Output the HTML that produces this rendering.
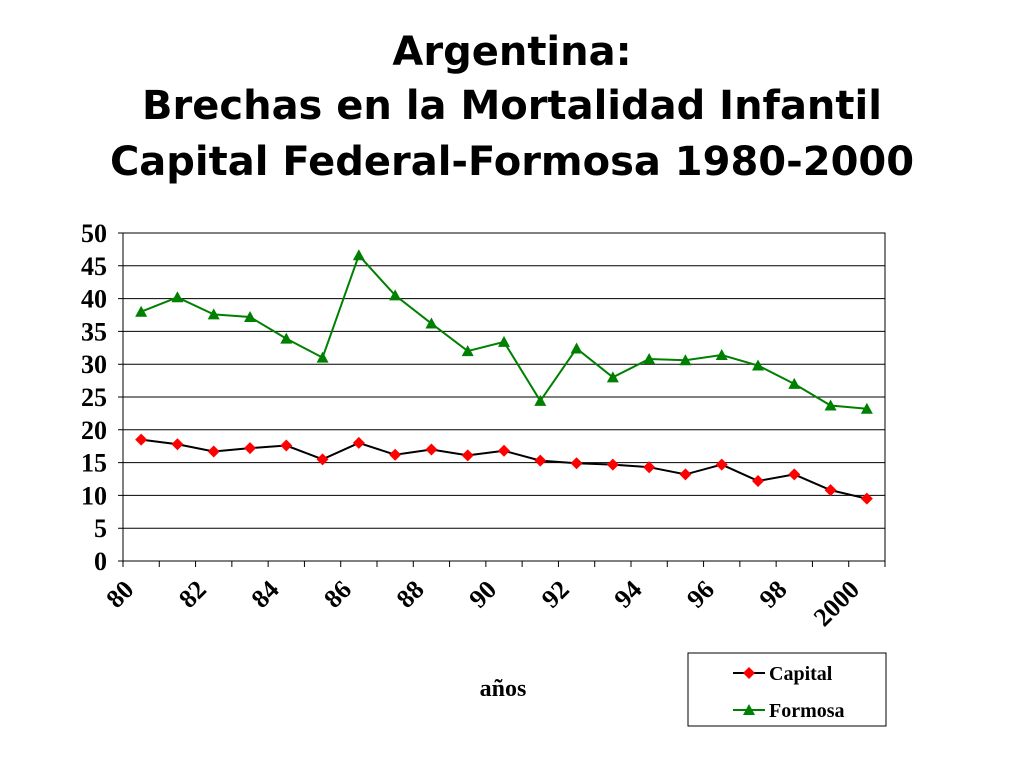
<!DOCTYPE html>
<html><head><meta charset="utf-8"><style>
body{margin:0;background:#fff;width:1024px;height:768px;overflow:hidden}
.t{position:absolute;left:0;width:1024px;text-align:center;font-family:"DejaVu Sans","Liberation Sans",sans-serif;font-weight:bold;font-size:40px;color:#000}
</style></head><body>
<div class="t" style="top:29px">Argentina:</div>
<div class="t" style="top:83px">Brechas en la Mortalidad Infantil</div>
<div class="t" style="top:139px">Capital Federal-Formosa 1980-2000</div>
<svg id="c" width="1024" height="768" style="position:absolute;left:0;top:0"></svg>
<script>
const years=["80","","82","","84","","86","","88","","90","","92","","94","","96","","98","","2000"];
const capital=[18.5,17.8,16.7,17.2,17.6,15.5,18,16.2,17,16.1,16.8,15.3,14.9,14.7,14.3,13.2,14.7,12.2,13.2,10.8,9.5];
const formosa=[38,40.2,37.6,37.2,33.9,31,46.6,40.5,36.2,32,33.4,24.4,32.4,28,30.8,30.6,31.4,29.8,27,23.7,23.2];
const yTicks=[0,5,10,15,20,25,30,35,40,45,50];
const L=123,R=885,T=233,B=561,n=years.length,step=(R-L)/n;
const X=i=>L+step*(i+0.5), Y=v=>B-(v/50)*(B-T);
const s=document.getElementById('c'),NS="http://www.w3.org/2000/svg";
function E(t,a,p){const e=document.createElementNS(NS,t);for(const k in a)e.setAttribute(k,a[k]);(p||s).appendChild(e);return e;}
let r=E('rect',{x:L,y:T,width:R-L,height:B-T,fill:'#fff',stroke:'#000','stroke-width':1});

yTicks.forEach(v=>{
 let g=E('line',{x1:L-5,x2:R,y1:Y(v),y2:Y(v),stroke:'#000','stroke-width':1});
 
 let t=E('text',{x:L-16,y:Y(v)+9,'text-anchor':'end','font-family':'Liberation Serif,serif','font-weight':'bold','font-size':26});
 t.textContent=v;
});
for(let i=0;i<=n;i++){let k=E('line',{x1:L+step*i,x2:L+step*i,y1:B,y2:B+6,stroke:'#000'});}
years.forEach((y,i)=>{if(!y)return;
 let t=E('text',{transform:`translate(${X(i)-6},${B+30}) rotate(-45)`,'text-anchor':'end','font-family':'Liberation Serif,serif','font-weight':'bold','font-size':26});
 t.textContent=y;});
function series(vals,name,col,shape){
 let p=E('polyline',{points:vals.map((v,i)=>X(i)+','+Y(v)).join(' '),fill:'none',stroke:col==='red'?'#000':'#008000','stroke-width':2});
 
 vals.forEach((v,i)=>marker(X(i),Y(v),shape,name+'-point'));
}
function marker(x,y,shape,nm){let m;
 if(shape==='d')m=E('polygon',{points:`${x},${y-6} ${x+6},${y} ${x},${y+6} ${x-6},${y}`,fill:'#f00'});
 else m=E('polygon',{points:`${x},${y-6} ${x+6},${y+5} ${x-6},${y+5}`,fill:'#008000'});
 }
series(formosa,'formosa','green','t');
series(capital,'capital','red','d');
let a=E('text',{x:503,y:696,'text-anchor':'middle','font-family':'Liberation Serif,serif','font-weight':'bold','font-size':24});
a.textContent='años';
let lg=E('rect',{x:688,y:653,width:198,height:73,fill:'#fff',stroke:'#000'});

[['Capital','#000','d',673],['Formosa','#008000','t',710]].forEach(([nm,c,sh,y])=>{
 let l=E('line',{x1:733,x2:765,y1:y,y2:y,stroke:c,'stroke-width':2});
 marker(749,y,sh,'legend-marker');
 let t=E('text',{x:769,y:y+7,'font-family':'Liberation Serif,serif','font-weight':'bold','font-size':20});
 t.textContent=nm;});
</script>
</body></html>
